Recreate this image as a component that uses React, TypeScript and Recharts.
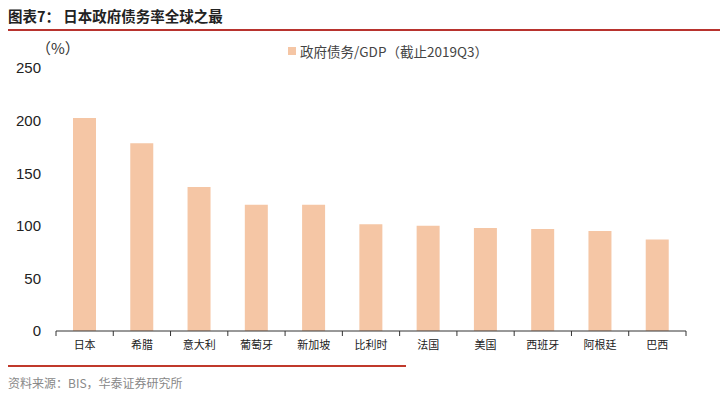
import { BarChart, Bar, XAxis, YAxis } from "recharts"

const countries = ["日本", "希腊", "意大利", "葡萄牙", "新加坡", "比利时", "法国", "美国", "西班牙", "阿根廷", "巴西"]
const debtRatio = [202.5, 178.5, 137, 120, 120, 101.5, 100, 98, 97, 95, 87]
const yTicks = [0, 50, 100, 150, 200, 250]

const rows = countries.map((c, i) => ({ name: c, value: debtRatio[i] }))

const W = 720
const H = 395
const X_H = 30
const M = { top: 68, right: 34, bottom: 64 - X_H, left: 0 }
const Y_W = 56
const STEP = (W - M.left - M.right - Y_W) / countries.length
const CJK = '"Noto Sans CJK SC", sans-serif'

function CatTick(props: any) {
  const { x, y, payload, index } = props
  const half = STEP / 2
  return (
    <g>
      {index === 0 && <line x1={x - half} x2={x - half} y1={y - 8} y2={y - 3} stroke="#333" />}
      <line x1={x + half} x2={x + half} y1={y - 8} y2={y - 3} stroke="#333" />
      <text x={x} y={y + 10} textAnchor="middle" fontSize={11} fill="#222" fontFamily={CJK}>
        {payload.value}
      </text>
    </g>
  )
}

export default function App() {
  return (
    <div style={{ position: "absolute", left: 0, top: 0, width: W, height: H, background: "#fff", overflow: "hidden" }}>
      <div style={{ position: "absolute", left: 8, top: 5, fontFamily: CJK, fontWeight: 700, fontSize: 14.5, color: "#222" }}>
        图表7： 日本政府债务率全球之最
      </div>
      <div style={{ position: "absolute", left: 8, top: 29, width: 712, height: 2, background: "#b8332e" }} />

      <div style={{ position: "absolute", left: 36, top: 37, fontFamily: CJK, fontSize: 15, color: "#333" }}>（%）</div>

      <div style={{ position: "absolute", left: 288, top: 41, display: "flex", alignItems: "center", fontFamily: CJK, fontSize: 13.5, color: "#444" }}>
        <span style={{ display: "inline-block", width: 8, height: 8, background: "#f5c6a5", marginRight: 4 }} />
        政府债务/GDP（截止2019Q3）
      </div>

      <div style={{ position: "absolute", left: 0, top: 0 }}>
        <BarChart width={W} height={H} data={rows} margin={M}>
          <XAxis
            dataKey="name"
            height={X_H}
            tick={<CatTick />}
            tickLine={false}
            axisLine={{ stroke: "#333" }}
            interval={0}
          />
          <YAxis
            width={Y_W}
            domain={[0, 250]}
            ticks={yTicks}
            axisLine={false}
            tickLine={false}
            tick={{ fontSize: 15, fill: "#222", fontFamily: '"Liberation Sans", Arial, sans-serif' }}
            tickMargin={9}
          />
          <Bar dataKey="value" fill="#f5c6a5" barSize={23} isAnimationActive={false} />
        </BarChart>
      </div>

      <div style={{ position: "absolute", left: 8, top: 365, width: 398, height: 2, background: "#c0392b" }} />
      <div style={{ position: "absolute", left: 8, top: 374, fontFamily: CJK, fontSize: 12, color: "#888" }}>
        资料来源：BIS，华泰证券研究所
      </div>
    </div>
  )
}
